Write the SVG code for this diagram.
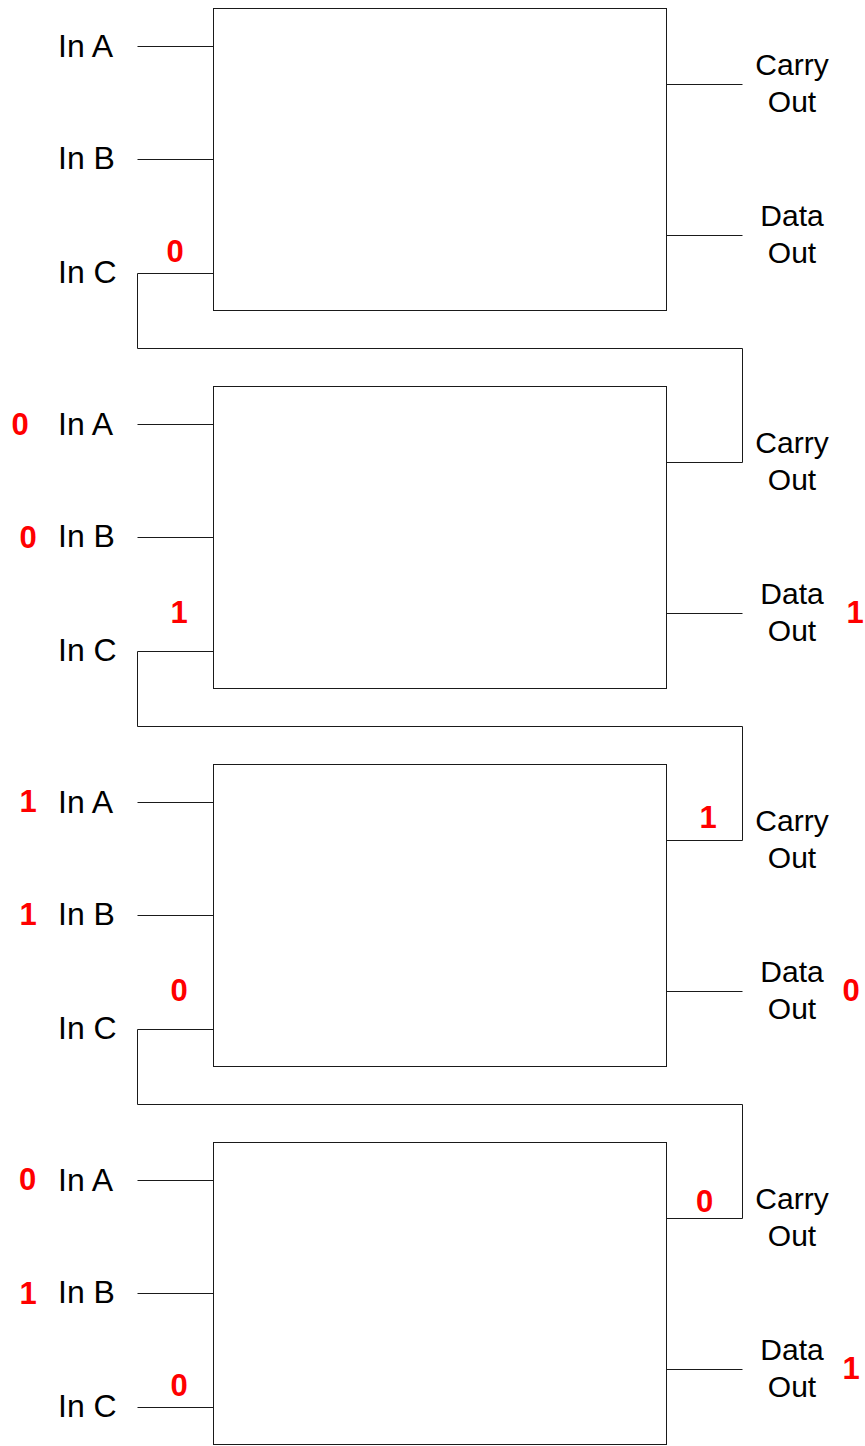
<svg xmlns="http://www.w3.org/2000/svg" width="865" height="1446" viewBox="0 0 865 1446">
<style>
.box{fill:#ffffff;stroke:#1a1a1a;stroke-width:1}
.w{fill:none;stroke:#1a1a1a;stroke-width:1}
.in{font-family:"Liberation Sans",Arial,sans-serif;font-size:32px;fill:#000}
.out{font-family:"Liberation Sans",Arial,sans-serif;font-size:30px;fill:#000;text-anchor:middle}
.v{font-family:"Liberation Sans",Arial,sans-serif;font-size:31px;font-weight:bold;fill:#ff0000;text-anchor:middle}
</style>
<rect width="865" height="1446" fill="#ffffff"/>
<g id="connectors">
<path class="w" d="M137.5 46.5H213.5M137.5 159.5H213.5M666.5 84.5H742.5M666.5 235.5H742.5"/>
<path class="w" d="M213.5 273.5H137.5V348.5H742.5V462.5H666.5"/>
<path class="w" d="M137.5 424.5H213.5M137.5 537.5H213.5M666.5 613.5H742.5"/>
<path class="w" d="M213.5 651.5H137.5V726.5H742.5V840.5H666.5"/>
<path class="w" d="M137.5 802.5H213.5M137.5 915.5H213.5M666.5 991.5H742.5"/>
<path class="w" d="M213.5 1029.5H137.5V1104.5H742.5V1218.5H666.5"/>
<path class="w" d="M137.5 1180.5H213.5M137.5 1293.5H213.5M137.5 1407.5H213.5M666.5 1369.5H742.5"/>
</g>
<g id="adder1">
<rect class="box" x="213.5" y="8.5" width="453" height="302"/>
<text class="in" x="58" y="57">In A</text>
<text class="in" x="58" y="169">In B</text>
<text class="in" x="58" y="283">In C</text>
<text class="out" x="792" y="75">Carry</text>
<text class="out" x="792" y="112">Out</text>
<text class="out" x="792" y="226">Data</text>
<text class="out" x="792" y="263">Out</text>
<text class="v" x="175" y="262">0</text>
</g>
<g id="adder2">
<rect class="box" x="213.5" y="386.5" width="453" height="302"/>
<text class="in" x="58" y="435">In A</text>
<text class="in" x="58" y="547">In B</text>
<text class="in" x="58" y="661">In C</text>
<text class="out" x="792" y="453">Carry</text>
<text class="out" x="792" y="490">Out</text>
<text class="out" x="792" y="604">Data</text>
<text class="out" x="792" y="641">Out</text>
<text class="v" x="20" y="435">0</text>
<text class="v" x="28" y="548">0</text>
<text class="v" x="179" y="623">1</text>
<text class="v" x="855" y="623">1</text>
</g>
<g id="adder3">
<rect class="box" x="213.5" y="764.5" width="453" height="302"/>
<text class="in" x="58" y="813">In A</text>
<text class="in" x="58" y="925">In B</text>
<text class="in" x="58" y="1039">In C</text>
<text class="out" x="792" y="831">Carry</text>
<text class="out" x="792" y="868">Out</text>
<text class="out" x="792" y="982">Data</text>
<text class="out" x="792" y="1019">Out</text>
<text class="v" x="28" y="812">1</text>
<text class="v" x="28" y="925">1</text>
<text class="v" x="179" y="1001">0</text>
<text class="v" x="708" y="828">1</text>
<text class="v" x="851" y="1001">0</text>
</g>
<g id="adder4">
<rect class="box" x="213.5" y="1142.5" width="453" height="302"/>
<text class="in" x="58" y="1191">In A</text>
<text class="in" x="58" y="1303">In B</text>
<text class="in" x="58" y="1417">In C</text>
<text class="out" x="792" y="1209">Carry</text>
<text class="out" x="792" y="1246">Out</text>
<text class="out" x="792" y="1360">Data</text>
<text class="out" x="792" y="1397">Out</text>
<text class="v" x="27.5" y="1190">0</text>
<text class="v" x="28" y="1304">1</text>
<text class="v" x="179" y="1396">0</text>
<text class="v" x="704.5" y="1212">0</text>
<text class="v" x="851" y="1379">1</text>
</g>
</svg>
